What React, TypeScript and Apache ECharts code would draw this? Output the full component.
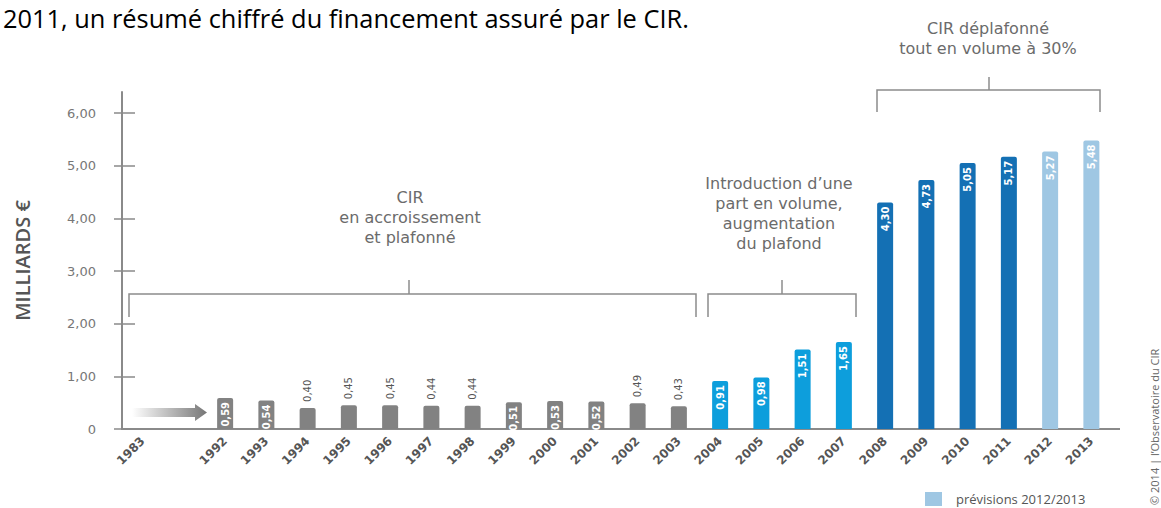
import React, { useEffect, useRef } from "react";
import * as echarts from "echarts";

const years = [
  "1983", "", "1992", "1993", "1994", "1995", "1996", "1997", "1998", "1999", "2000", "2001",
  "2002", "2003", "2004", "2005", "2006", "2007", "2008", "2009", "2010", "2011", "2012", "2013",
];
const actualValues = [
  null, null, 0.59, 0.54, 0.4, 0.45, 0.45, 0.44, 0.44, 0.51, 0.53, 0.52,
  0.49, 0.43, 0.91, 0.98, 1.51, 1.65, 4.3, 4.73, 5.05, 5.17, null, null,
];
const forecastValues = [
  null, null, null, null, null, null, null, null, null, null, null, null,
  null, null, null, null, null, null, null, null, null, null, 5.27, 5.48,
];
const periods = [
  "", "", "base", "base", "base", "base", "base", "base", "base", "base", "base", "base",
  "base", "base", "volume", "volume", "volume", "volume", "deplafonne", "deplafonne", "deplafonne", "deplafonne", "prevision", "prevision",
];
const yTicks = [0, 1, 2, 3, 4, 5, 6];
const forecastName = "prévisions 2012/2013";
const yTitle = "MILLIARDS €";
const headline = "2011, un résumé chiffré du financement assuré par le CIR.";
const noteBase = "CIR\nen accroissement\net plafonné";
const noteVolume = "Introduction d’une\npart en volume,\naugmentation\ndu plafond";
const noteDeplafonne = "CIR déplafonné\ntout en volume à 30%";
const copyright = "© 2014 | l’Observatoire du CIR";

const periodColors: Record<string, string> = {
  base: "#828282",
  volume: "#0d9edc",
  deplafonne: "#1470b4",
  prevision: "#9fc7e3",
};

const fmt = (v: number) => (v === 0 ? "0" : v.toFixed(2).replace(".", ","));

function buildItems(values: (number | null)[]) {
  return values.map((v, i) => {
    if (v == null) return null;
    const inside = periods[i] !== "base" || v >= 0.5;
    return {
      value: v,
      itemStyle: { color: periodColors[periods[i]] },
      label: inside
        ? {
            show: true,
            position: "insideTop",
            rotate: 90,
            align: "right",
            verticalAlign: "middle",
            distance: 4,
            color: "#ffffff",
            fontWeight: "bold",
          }
        : {
            show: true,
            position: "top",
            rotate: 90,
            align: "left",
            verticalAlign: "middle",
            distance: 6,
            color: "#555555",
          },
    };
  });
}

export default function App() {
  const ref = useRef<HTMLDivElement>(null);
  useEffect(() => {
    document.body.style.margin = "0";
    if (!ref.current) return;
    const chart = echarts.init(ref.current, undefined, { renderer: "svg" });
    const axisColor = "#8a8a8a";
    const noteStyle = {
      fill: "#6b6b6b",
      fontSize: 16,
      fontFamily: "DejaVu Sans",
      align: "center",
      verticalAlign: "top",
      lineHeight: 20,
    };
    const bracket = { stroke: "#8c8c8c", lineWidth: 1.5, fill: "none" };
    chart.setOption({
      animation: false,
      grid: { left: 122, right: 49, top: 92, bottom: 79, containLabel: false },
      legend: {
        data: [forecastName],
        left: 925,
        top: 492,
        padding: 0,
        icon: "rect",
        itemWidth: 17,
        itemHeight: 14,
        textStyle: { color: "#555", fontSize: 13, fontFamily: "Open Sans", padding: [0, 0, 0, 9] },
        selectedMode: false,
      },
      xAxis: {
        type: "category",
        data: years,
        axisLine: { lineStyle: { color: axisColor, width: 2 } },
        axisTick: { show: false },
        axisLabel: {
          interval: 0,
          rotate: 45,
          margin: 10,
          fontSize: 12,
          fontWeight: "bold",
          color: "#555",
          fontFamily: "DejaVu Sans",
        },
      },
      yAxis: [
        {
          type: "value",
          min: 0,
          max: 6.4,
          position: "left",
          axisLine: { show: true, lineStyle: { color: axisColor, width: 2 } },
          axisTick: { show: true, length: 8, customValues: yTicks, lineStyle: { color: axisColor, width: 1.5 } },
          axisLabel: {
            customValues: yTicks,
            margin: 26,
            fontSize: 13,
            color: "#777",
            fontFamily: "DejaVu Sans",
            formatter: (v: number) => fmt(v),
          },
          splitLine: { show: false },
          name: yTitle,
          nameLocation: "middle",
          nameRotate: 90,
          nameGap: 90,
          nameTextStyle: { fontSize: 20, fontWeight: 600, color: "#555", fontFamily: "Open Sans" },
        },
        {
          type: "value",
          min: 0,
          max: 6.4,
          position: "left",
          axisLine: { show: false },
          axisTick: { show: true, inside: true, length: 13, customValues: yTicks, lineStyle: { color: axisColor, width: 1.5 } },
          axisLabel: { show: false },
          splitLine: { show: false },
        },
      ],
      series: [
        {
          name: "CIR",
          type: "bar",
          barWidth: 16,
          barGap: "-100%",
          data: buildItems(actualValues),
          itemStyle: { borderRadius: [2, 2, 0, 0] },
          label: { fontSize: 10, fontFamily: "DejaVu Sans", formatter: (p: any) => fmt(p.value) },
        },
        {
          name: forecastName,
          type: "bar",
          barWidth: 16,
          barGap: "-100%",
          color: periodColors.prevision,
          data: buildItems(forecastValues),
          itemStyle: { borderRadius: [2, 2, 0, 0] },
          label: { fontSize: 10, fontFamily: "DejaVu Sans", formatter: (p: any) => fmt(p.value) },
        },
      ],
      graphic: [
        {
          type: "text",
          x: 3,
          y: 5,
          style: { text: headline, fill: "#000", fontSize: 25.4, fontFamily: "Open Sans" },
        },
        { type: "line", shape: { x1: 1112, y1: 429, x2: 1120, y2: 429 }, style: { stroke: axisColor, lineWidth: 2 } },
        {
          type: "polygon",
          shape: {
            points: [
              [132, 408], [195, 408], [195, 404], [207, 412.5], [195, 421], [195, 417], [132, 417],
            ],
          },
          style: {
            fill: new echarts.graphic.LinearGradient(0, 0, 1, 0, [
              { offset: 0, color: "rgba(255,255,255,1)" },
              { offset: 1, color: "#767676" },
            ]),
          },
        },
        { type: "polyline", shape: { points: [[129, 317], [129, 294], [696, 294], [696, 317]] }, style: bracket },
        { type: "line", shape: { x1: 409, y1: 280, x2: 409, y2: 294 }, style: bracket },
        { type: "polyline", shape: { points: [[708, 317], [708, 294], [856, 294], [856, 317]] }, style: bracket },
        { type: "line", shape: { x1: 782, y1: 280, x2: 782, y2: 294 }, style: bracket },
        { type: "polyline", shape: { points: [[877, 112], [877, 90], [1100, 90], [1100, 112]] }, style: bracket },
        { type: "line", shape: { x1: 989, y1: 77, x2: 989, y2: 90 }, style: bracket },
        { type: "text", x: 410, y: 187, style: { ...noteStyle, text: noteBase } },
        { type: "text", x: 779, y: 173, style: { ...noteStyle, text: noteVolume } },
        { type: "text", x: 988, y: 18, style: { ...noteStyle, text: noteDeplafonne } },
        {
          type: "text",
          x: 1154,
          y: 505,
          rotation: Math.PI / 2,
          style: {
            text: copyright,
            fill: "#666",
            fontSize: 11,
            fontFamily: "Open Sans",
            align: "left",
            verticalAlign: "middle",
          },
        },
      ],
    });
    return () => chart.dispose();
  }, []);
  return (
    <div
      ref={ref}
      style={{ position: "absolute", left: 0, top: 0, width: 1161, height: 508, background: "#fff" }}
    />
  );
}
